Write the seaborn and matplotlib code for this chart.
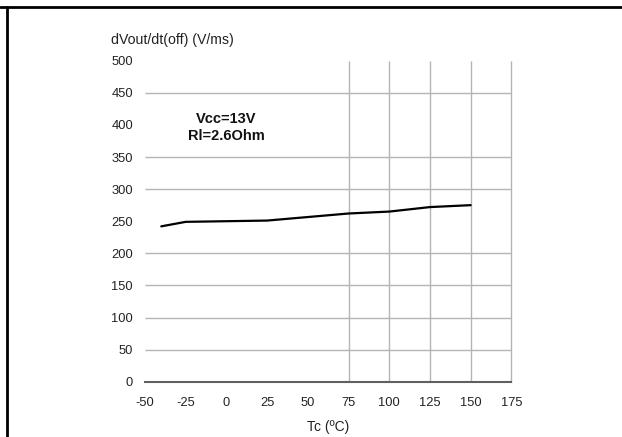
import matplotlib
matplotlib.use('Agg')
import matplotlib.pyplot as plt
from matplotlib.lines import Line2D
import seaborn as sns
import pandas as pd

sns.set_theme(style='white')
plt.rcParams['font.family'] = ['Liberation Sans', 'DejaVu Sans']
plt.rcParams['axes.unicode_minus'] = False

# ── Data ──
tc = [-40, -25, 25, 75, 100, 125, 150]
dvdt_off = [242, 249, 251, 262, 265, 272, 275]

x_ticks = [-50, -25, 0, 25, 50, 75, 100, 125, 150, 175]
y_ticks = [0, 50, 100, 150, 200, 250, 300, 350, 400, 450, 500]
h_grid = [50, 100, 150, 200, 300, 350, 450]
v_grid = [75, 100, 125, 150, 175]

df = pd.DataFrame({'Tc': tc, 'dVdt': dvdt_off})

fig = plt.figure(figsize=(6.22, 4.37), dpi=100)
ax = fig.add_axes([0.2331, 0.1265, 0.589, 0.7346])

# grid (only partly drawn in the original)
ax.hlines(h_grid, -50, 175, color='#b4b4b4', lw=1.0, zorder=1, clip_on=False)
ax.vlines(v_grid, 0, 500, color='#b4b4b4', lw=1.0, zorder=1, clip_on=False)

sns.lineplot(data=df, x='Tc', y='dVdt', color='black', lw=1.6, ax=ax, zorder=3)

ax.set_xlim(-50, 175)
ax.set_ylim(0, 500)
ax.set_xticks(x_ticks)
ax.set_yticks(y_ticks)
ax.tick_params(axis='both', length=0, labelsize=9.3, colors='#222222')
ax.tick_params(axis='x', pad=11)
ax.tick_params(axis='y', pad=8.6)
for s in ['left', 'right', 'top']:
    ax.spines[s].set_visible(False)
ax.spines['bottom'].set_color('#606060')
ax.spines['bottom'].set_linewidth(1.5)
ax.spines['bottom'].set_zorder(2)

ax.set_xlabel('Tc (ºC)', fontsize=10, color='#222222', labelpad=8)
ax.set_ylabel('')
fig.text(111 / 622, 1 - 40 / 437, 'dVout/dt(off) (V/ms)', fontsize=10.2,
         color='#222222', ha='left', va='center')

ax.text(0, 396, 'Vcc=13V\nRl=2.6Ohm', fontsize=10.5, fontweight='bold',
        ha='center', va='center', color='#111111', linespacing=1.3)

# page frame around the figure
fig.add_artist(Line2D([0, 1], [1 - 7 / 437, 1 - 7 / 437], color='black', lw=2.0,
                      transform=fig.transFigure))
fig.add_artist(Line2D([7 / 622, 7 / 622], [0, 1 - 7 / 437], color='black', lw=2.0,
                      transform=fig.transFigure))

fig.savefig('out.png', dpi=100)
